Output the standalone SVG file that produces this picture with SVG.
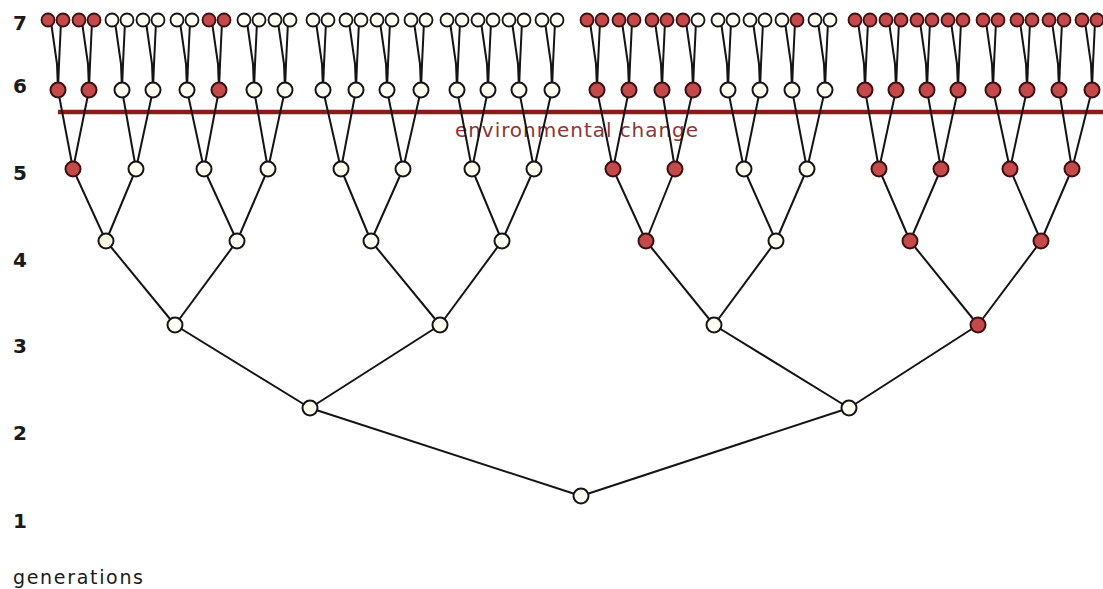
<svg xmlns="http://www.w3.org/2000/svg" width="1103" height="589" viewBox="0 0 1103 589">
<style>
.e{stroke:#141414;stroke-width:2;fill:none;stroke-linejoin:round}
.w{fill:#fffff4;stroke:#141414;stroke-width:2}
.r{fill:#c4494a;stroke:#3b1010;stroke-width:2}
.s{stroke-width:1.8}
.lab{font-family:"DejaVu Sans",sans-serif;font-weight:bold;font-size:20px;fill:#1a1a1a}
.env{font-family:"DejaVu Sans",sans-serif;font-size:20px;fill:#8b3535}
.gen{font-family:"DejaVu Sans",sans-serif;font-size:19px;fill:#1a1a1a}
</style>
<rect width="1103" height="589" fill="#ffffff"/>
<g id="generation-labels">
<text class="lab" x="13" y="30">7</text>
<text class="lab" x="13" y="93">6</text>
<text class="lab" x="13" y="180">5</text>
<text class="lab" x="13" y="267">4</text>
<text class="lab" x="13" y="353">3</text>
<text class="lab" x="13" y="440">2</text>
<text class="lab" x="13" y="528">1</text>
<text class="gen" x="13" y="584" textLength="130" lengthAdjust="spacing">generations</text>
</g>
<g id="environmental-change">
<line x1="58" y1="112" x2="1103" y2="112" stroke="#8b1a1a" stroke-width="4.5"/>
<text class="env" x="455" y="137" textLength="243" lengthAdjust="spacing">environmental change</text>
</g>
<g id="connectors" class="e">
<path d="M581 496L310 408M581 496L849 408"/>
<path d="M310 408L175 325M310 408L440 325M849 408L714 325M849 408L978 325"/>
<path d="M175 325L106 241M175 325L237 241M440 325L371 241M440 325L502 241M714 325L646 241M714 325L776 241M978 325L910 241M978 325L1041 241"/>
<path d="M106 241L73 169M106 241L136 169M237 241L204 169M237 241L268 169M371 241L341 169M371 241L403 169M502 241L472 169M502 241L534 169M646 241L613 169M646 241L675 169M776 241L744 169M776 241L807 169M910 241L879 169M910 241L941 169M1041 241L1010 169M1041 241L1072 169"/>
<path d="M73 169L58 90M73 169L89 90M136 169L122 90M136 169L153 90M204 169L187 90M204 169L219 90M268 169L254 90M268 169L285 90M341 169L323 90M341 169L356 90M403 169L387 90M403 169L421 90M472 169L457 90M472 169L488 90M534 169L519 90M534 169L552 90M613 169L597 90M613 169L629 90M675 169L662 90M675 169L693 90M744 169L728 90M744 169L760 90M807 169L792 90M807 169L825 90M879 169L865 90M879 169L896 90M941 169L927 90M941 169L958 90M1010 169L993 90M1010 169L1027 90M1072 169L1059 90M1072 169L1092 90"/>
<path d="M51 22l6 42l1 26M61 22l-2 42l-1 26"/>
<path d="M82 22l6 42l1 26M92 22l-2 42l-1 26"/>
<path d="M115 22l6 42l1 26M125 22l-2 42l-1 26"/>
<path d="M146 22l6 42l1 26M156 22l-2 42l-1 26"/>
<path d="M180 22l6 42l1 26M190 22l-2 42l-1 26"/>
<path d="M212 22l6 42l1 26M222 22l-2 42l-1 26"/>
<path d="M247 22l6 42l1 26M257 22l-2 42l-1 26"/>
<path d="M278 22l6 42l1 26M288 22l-2 42l-1 26"/>
<path d="M316 22l6 42l1 26M326 22l-2 42l-1 26"/>
<path d="M349 22l6 42l1 26M359 22l-2 42l-1 26"/>
<path d="M380 22l6 42l1 26M390 22l-2 42l-1 26"/>
<path d="M414 22l6 42l1 26M424 22l-2 42l-1 26"/>
<path d="M450 22l6 42l1 26M460 22l-2 42l-1 26"/>
<path d="M481 22l6 42l1 26M491 22l-2 42l-1 26"/>
<path d="M512 22l6 42l1 26M522 22l-2 42l-1 26"/>
<path d="M545 22l6 42l1 26M555 22l-2 42l-1 26"/>
<path d="M590 22l6 42l1 26M600 22l-2 42l-1 26"/>
<path d="M622 22l6 42l1 26M632 22l-2 42l-1 26"/>
<path d="M655 22l6 42l1 26M665 22l-2 42l-1 26"/>
<path d="M686 22l6 42l1 26M696 22l-2 42l-1 26"/>
<path d="M721 22l6 42l1 26M731 22l-2 42l-1 26"/>
<path d="M753 22l6 42l1 26M763 22l-2 42l-1 26"/>
<path d="M785 22l6 42l1 26M795 22l-2 42l-1 26"/>
<path d="M818 22l6 42l1 26M828 22l-2 42l-1 26"/>
<path d="M858 22l6 42l1 26M868 22l-2 42l-1 26"/>
<path d="M889 22l6 42l1 26M899 22l-2 42l-1 26"/>
<path d="M920 22l6 42l1 26M930 22l-2 42l-1 26"/>
<path d="M951 22l6 42l1 26M961 22l-2 42l-1 26"/>
<path d="M986 22l6 42l1 26M996 22l-2 42l-1 26"/>
<path d="M1020 22l6 42l1 26M1030 22l-2 42l-1 26"/>
<path d="M1052 22l6 42l1 26M1062 22l-2 42l-1 26"/>
<path d="M1085 22l6 42l1 26M1095 22l-2 42l-1 26"/>
</g>
<g id="gen1">
<g id="n1-1"><circle class="w" cx="581" cy="496" r="7.5"/></g>
</g>
<g id="gen2">
<g id="n2-1"><circle class="w" cx="310" cy="408" r="7.5"/></g>
<g id="n2-2"><circle class="w" cx="849" cy="408" r="7.5"/></g>
</g>
<g id="gen3">
<g id="n3-1"><circle class="w" cx="175" cy="325" r="7.5"/></g>
<g id="n3-2"><circle class="w" cx="440" cy="325" r="7.5"/></g>
<g id="n3-3"><circle class="w" cx="714" cy="325" r="7.5"/></g>
<g id="n3-4"><circle class="r" cx="978" cy="325" r="7.5"/></g>
</g>
<g id="gen4">
<g id="n4-1"><circle class="w" cx="106" cy="241" r="7.5" style="fill:#f5f5e0"/></g>
<g id="n4-2"><circle class="w" cx="237" cy="241" r="7.5"/></g>
<g id="n4-3"><circle class="w" cx="371" cy="241" r="7.5"/></g>
<g id="n4-4"><circle class="w" cx="502" cy="241" r="7.5"/></g>
<g id="n4-5"><circle class="r" cx="646" cy="241" r="7.5"/></g>
<g id="n4-6"><circle class="w" cx="776" cy="241" r="7.5"/></g>
<g id="n4-7"><circle class="r" cx="910" cy="241" r="7.5"/></g>
<g id="n4-8"><circle class="r" cx="1041" cy="241" r="7.5"/></g>
</g>
<g id="gen5">
<g id="n5-1"><circle class="r" cx="73" cy="169" r="7.5"/></g>
<g id="n5-2"><circle class="w" cx="136" cy="169" r="7.5"/></g>
<g id="n5-3"><circle class="w" cx="204" cy="169" r="7.5"/></g>
<g id="n5-4"><circle class="w" cx="268" cy="169" r="7.5"/></g>
<g id="n5-5"><circle class="w" cx="341" cy="169" r="7.5"/></g>
<g id="n5-6"><circle class="w" cx="403" cy="169" r="7.5"/></g>
<g id="n5-7"><circle class="w" cx="472" cy="169" r="7.5"/></g>
<g id="n5-8"><circle class="w" cx="534" cy="169" r="7.5"/></g>
<g id="n5-9"><circle class="r" cx="613" cy="169" r="7.5"/></g>
<g id="n5-10"><circle class="r" cx="675" cy="169" r="7.5"/></g>
<g id="n5-11"><circle class="w" cx="744" cy="169" r="7.5"/></g>
<g id="n5-12"><circle class="w" cx="807" cy="169" r="7.5"/></g>
<g id="n5-13"><circle class="r" cx="879" cy="169" r="7.5"/></g>
<g id="n5-14"><circle class="r" cx="941" cy="169" r="7.5"/></g>
<g id="n5-15"><circle class="r" cx="1010" cy="169" r="7.5"/></g>
<g id="n5-16"><circle class="r" cx="1072" cy="169" r="7.5"/></g>
</g>
<g id="gen6">
<g id="n6-1"><circle class="r" cx="58" cy="90" r="7.5"/></g>
<g id="n6-2"><circle class="r" cx="89" cy="90" r="7.5"/></g>
<g id="n6-3"><circle class="w" cx="122" cy="90" r="7.5"/></g>
<g id="n6-4"><circle class="w" cx="153" cy="90" r="7.5"/></g>
<g id="n6-5"><circle class="w" cx="187" cy="90" r="7.5"/></g>
<g id="n6-6"><circle class="r" cx="219" cy="90" r="7.5"/></g>
<g id="n6-7"><circle class="w" cx="254" cy="90" r="7.5"/></g>
<g id="n6-8"><circle class="w" cx="285" cy="90" r="7.5"/></g>
<g id="n6-9"><circle class="w" cx="323" cy="90" r="7.5"/></g>
<g id="n6-10"><circle class="w" cx="356" cy="90" r="7.5"/></g>
<g id="n6-11"><circle class="w" cx="387" cy="90" r="7.5"/></g>
<g id="n6-12"><circle class="w" cx="421" cy="90" r="7.5"/></g>
<g id="n6-13"><circle class="w" cx="457" cy="90" r="7.5"/></g>
<g id="n6-14"><circle class="w" cx="488" cy="90" r="7.5"/></g>
<g id="n6-15"><circle class="w" cx="519" cy="90" r="7.5"/></g>
<g id="n6-16"><circle class="w" cx="552" cy="90" r="7.5"/></g>
<g id="n6-17"><circle class="r" cx="597" cy="90" r="7.5"/></g>
<g id="n6-18"><circle class="r" cx="629" cy="90" r="7.5"/></g>
<g id="n6-19"><circle class="r" cx="662" cy="90" r="7.5"/></g>
<g id="n6-20"><circle class="r" cx="693" cy="90" r="7.5"/></g>
<g id="n6-21"><circle class="w" cx="728" cy="90" r="7.5"/></g>
<g id="n6-22"><circle class="w" cx="760" cy="90" r="7.5"/></g>
<g id="n6-23"><circle class="w" cx="792" cy="90" r="7.5"/></g>
<g id="n6-24"><circle class="w" cx="825" cy="90" r="7.5"/></g>
<g id="n6-25"><circle class="r" cx="865" cy="90" r="7.5"/></g>
<g id="n6-26"><circle class="r" cx="896" cy="90" r="7.5"/></g>
<g id="n6-27"><circle class="r" cx="927" cy="90" r="7.5"/></g>
<g id="n6-28"><circle class="r" cx="958" cy="90" r="7.5"/></g>
<g id="n6-29"><circle class="r" cx="993" cy="90" r="7.5"/></g>
<g id="n6-30"><circle class="r" cx="1027" cy="90" r="7.5"/></g>
<g id="n6-31"><circle class="r" cx="1059" cy="90" r="7.5"/></g>
<g id="n6-32"><circle class="r" cx="1092" cy="90" r="7.5"/></g>
</g>
<g id="gen7">
<g id="n7-1"><circle class="r s" cx="48" cy="20" r="6.5"/></g>
<g id="n7-2"><circle class="r s" cx="63" cy="20" r="6.5"/></g>
<g id="n7-3"><circle class="r s" cx="79" cy="20" r="6.5"/></g>
<g id="n7-4"><circle class="r s" cx="94" cy="20" r="6.5"/></g>
<g id="n7-5"><circle class="w s" cx="112" cy="20" r="6.5"/></g>
<g id="n7-6"><circle class="w s" cx="127" cy="20" r="6.5"/></g>
<g id="n7-7"><circle class="w s" cx="143" cy="20" r="6.5"/></g>
<g id="n7-8"><circle class="w s" cx="158" cy="20" r="6.5"/></g>
<g id="n7-9"><circle class="w s" cx="177" cy="20" r="6.5"/></g>
<g id="n7-10"><circle class="w s" cx="192" cy="20" r="6.5"/></g>
<g id="n7-11"><circle class="r s" cx="209" cy="20" r="6.5"/></g>
<g id="n7-12"><circle class="r s" cx="224" cy="20" r="6.5"/></g>
<g id="n7-13"><circle class="w s" cx="244" cy="20" r="6.5"/></g>
<g id="n7-14"><circle class="w s" cx="259" cy="20" r="6.5"/></g>
<g id="n7-15"><circle class="w s" cx="275" cy="20" r="6.5"/></g>
<g id="n7-16"><circle class="w s" cx="290" cy="20" r="6.5"/></g>
<g id="n7-17"><circle class="w s" cx="313" cy="20" r="6.5"/></g>
<g id="n7-18"><circle class="w s" cx="328" cy="20" r="6.5"/></g>
<g id="n7-19"><circle class="w s" cx="346" cy="20" r="6.5"/></g>
<g id="n7-20"><circle class="w s" cx="361" cy="20" r="6.5"/></g>
<g id="n7-21"><circle class="w s" cx="377" cy="20" r="6.5"/></g>
<g id="n7-22"><circle class="w s" cx="392" cy="20" r="6.5"/></g>
<g id="n7-23"><circle class="w s" cx="411" cy="20" r="6.5"/></g>
<g id="n7-24"><circle class="w s" cx="426" cy="20" r="6.5"/></g>
<g id="n7-25"><circle class="w s" cx="447" cy="20" r="6.5"/></g>
<g id="n7-26"><circle class="w s" cx="462" cy="20" r="6.5"/></g>
<g id="n7-27"><circle class="w s" cx="478" cy="20" r="6.5"/></g>
<g id="n7-28"><circle class="w s" cx="493" cy="20" r="6.5"/></g>
<g id="n7-29"><circle class="w s" cx="509" cy="20" r="6.5"/></g>
<g id="n7-30"><circle class="w s" cx="524" cy="20" r="6.5"/></g>
<g id="n7-31"><circle class="w s" cx="542" cy="20" r="6.5"/></g>
<g id="n7-32"><circle class="w s" cx="557" cy="20" r="6.5"/></g>
<g id="n7-33"><circle class="r s" cx="587" cy="20" r="6.5"/></g>
<g id="n7-34"><circle class="r s" cx="602" cy="20" r="6.5"/></g>
<g id="n7-35"><circle class="r s" cx="619" cy="20" r="6.5"/></g>
<g id="n7-36"><circle class="r s" cx="634" cy="20" r="6.5"/></g>
<g id="n7-37"><circle class="r s" cx="652" cy="20" r="6.5"/></g>
<g id="n7-38"><circle class="r s" cx="667" cy="20" r="6.5"/></g>
<g id="n7-39"><circle class="r s" cx="683" cy="20" r="6.5"/></g>
<g id="n7-40"><circle class="w s" cx="698" cy="20" r="6.5"/></g>
<g id="n7-41"><circle class="w s" cx="718" cy="20" r="6.5"/></g>
<g id="n7-42"><circle class="w s" cx="733" cy="20" r="6.5"/></g>
<g id="n7-43"><circle class="w s" cx="750" cy="20" r="6.5"/></g>
<g id="n7-44"><circle class="w s" cx="765" cy="20" r="6.5"/></g>
<g id="n7-45"><circle class="w s" cx="782" cy="20" r="6.5"/></g>
<g id="n7-46"><circle class="r s" cx="797" cy="20" r="6.5"/></g>
<g id="n7-47"><circle class="w s" cx="815" cy="20" r="6.5"/></g>
<g id="n7-48"><circle class="w s" cx="830" cy="20" r="6.5"/></g>
<g id="n7-49"><circle class="r s" cx="855" cy="20" r="6.5"/></g>
<g id="n7-50"><circle class="r s" cx="870" cy="20" r="6.5"/></g>
<g id="n7-51"><circle class="r s" cx="886" cy="20" r="6.5"/></g>
<g id="n7-52"><circle class="r s" cx="901" cy="20" r="6.5"/></g>
<g id="n7-53"><circle class="r s" cx="917" cy="20" r="6.5"/></g>
<g id="n7-54"><circle class="r s" cx="932" cy="20" r="6.5"/></g>
<g id="n7-55"><circle class="r s" cx="948" cy="20" r="6.5"/></g>
<g id="n7-56"><circle class="r s" cx="963" cy="20" r="6.5"/></g>
<g id="n7-57"><circle class="r s" cx="983" cy="20" r="6.5"/></g>
<g id="n7-58"><circle class="r s" cx="998" cy="20" r="6.5"/></g>
<g id="n7-59"><circle class="r s" cx="1017" cy="20" r="6.5"/></g>
<g id="n7-60"><circle class="r s" cx="1032" cy="20" r="6.5"/></g>
<g id="n7-61"><circle class="r s" cx="1049" cy="20" r="6.5"/></g>
<g id="n7-62"><circle class="r s" cx="1064" cy="20" r="6.5"/></g>
<g id="n7-63"><circle class="r s" cx="1082" cy="20" r="6.5"/></g>
<g id="n7-64"><circle class="r s" cx="1097" cy="20" r="6.5"/></g>
</g>
</svg>
